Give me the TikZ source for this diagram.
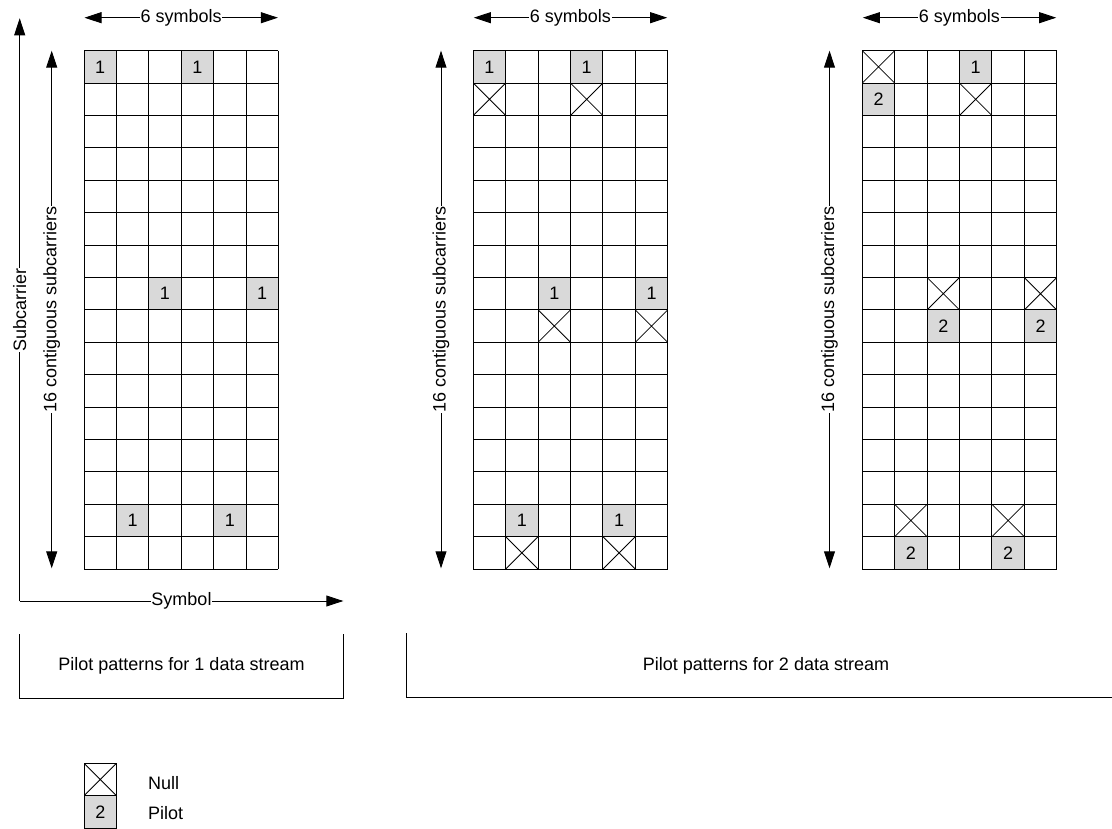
\documentclass[tikz,border=0pt]{standalone}
\usepackage{fontspec}
\setmainfont{Liberation Sans}
\usetikzlibrary{arrows.meta}
\begin{document}
\begin{tikzpicture}[x=1pt,y=-1pt,
  gridline/.style={line width=1pt,black},
  cellbox/.style={draw,line width=1pt,minimum width=32.4pt,minimum height=32.4pt,inner sep=0pt,outer sep=0pt,font=\fontsize{18}{20}\selectfont},
  pilotcell/.style={cellbox,fill=black!15},
  nullcell/.style={cellbox,fill=white,path picture={
      \draw[line width=0.8pt] (path picture bounding box.north west) -- (path picture bounding box.south east)
            (path picture bounding box.north east) -- (path picture bounding box.south west);}},
  arr/.style={line width=0.9pt,{Triangle[length=17pt,width=11pt]}-{Triangle[length=17pt,width=11pt]}},
  onearr/.style={line width=0.9pt,-{Triangle[length=17pt,width=11pt]}},
  lbl/.style={fill=white,inner sep=0.5pt,font=\fontsize{18}{20}\selectfont},
  boxline/.style={line width=0.9pt},
  plain/.style={inner sep=0pt,font=\fontsize{18}{20}\selectfont}
]
\useasboundingbox (0,0) rectangle (1112,829);
\def\cs{32.4}
\def\gy{50.7}
% grids
\foreach \gx in {84,473.3,862.3}{
  \foreach \i in {0,...,6}{
    \draw[gridline] (\gx+\i*\cs,\gy) -- (\gx+\i*\cs,\gy+16*\cs);
  }
  \foreach \j in {0,...,16}{
    \draw[gridline] (\gx,\gy+\j*\cs) -- (\gx+6*\cs,\gy+\j*\cs);
  }
}
% cell helper: column, row -> center
\newcommand{\cellat}[3]{(#1+#2*\cs+\cs/2,\gy+#3*\cs+\cs/2)}
% grid 1 pilots
\node[pilotcell] (g1p1) at \cellat{84}{0}{0} {1};
\node[pilotcell] (g1p2) at \cellat{84}{3}{0} {1};
\node[pilotcell] (g1p3) at \cellat{84}{2}{7} {1};
\node[pilotcell] (g1p4) at \cellat{84}{5}{7} {1};
\node[pilotcell] (g1p5) at \cellat{84}{1}{14} {1};
\node[pilotcell] (g1p6) at \cellat{84}{4}{14} {1};
% grid 2
\node[pilotcell] (g2p1) at \cellat{473.3}{0}{0} {1};
\node[pilotcell] (g2p2) at \cellat{473.3}{3}{0} {1};
\node[nullcell] (g2n1) at \cellat{473.3}{0}{1} {};
\node[nullcell] (g2n2) at \cellat{473.3}{3}{1} {};
\node[pilotcell] (g2p3) at \cellat{473.3}{2}{7} {1};
\node[pilotcell] (g2p4) at \cellat{473.3}{5}{7} {1};
\node[nullcell] (g2n3) at \cellat{473.3}{2}{8} {};
\node[nullcell] (g2n4) at \cellat{473.3}{5}{8} {};
\node[pilotcell] (g2p5) at \cellat{473.3}{1}{14} {1};
\node[pilotcell] (g2p6) at \cellat{473.3}{4}{14} {1};
\node[nullcell] (g2n5) at \cellat{473.3}{1}{15} {};
\node[nullcell] (g2n6) at \cellat{473.3}{4}{15} {};
% grid 3
\node[nullcell] (g3n1) at \cellat{862.3}{0}{0} {};
\node[pilotcell] (g3p1) at \cellat{862.3}{3}{0} {1};
\node[pilotcell] (g3q1) at \cellat{862.3}{0}{1} {2};
\node[nullcell] (g3n2) at \cellat{862.3}{3}{1} {};
\node[nullcell] (g3n3) at \cellat{862.3}{2}{7} {};
\node[nullcell] (g3n4) at \cellat{862.3}{5}{7} {};
\node[pilotcell] (g3q2) at \cellat{862.3}{2}{8} {2};
\node[pilotcell] (g3q3) at \cellat{862.3}{5}{8} {2};
\node[nullcell] (g3n5) at \cellat{862.3}{1}{14} {};
\node[nullcell] (g3n6) at \cellat{862.3}{4}{14} {};
\node[pilotcell] (g3q4) at \cellat{862.3}{1}{15} {2};
\node[pilotcell] (g3q5) at \cellat{862.3}{4}{15} {2};
% top arrows
\foreach \gx/\n in {84/a,473.3/b,862.3/c}{
  \coordinate (top\n l) at (\gx+0.5,17.7);
  \coordinate (top\n r) at (\gx+6*\cs-0.5,17.7);
  \draw[arr] (top\n l) -- node[lbl] (sym\n) {6 symbols} (top\n r);
}
% side arrows
\foreach \ax/\n in {51.7/a,441/b,829.5/c}{
  \coordinate (side\n t) at (\ax,50.7);
  \coordinate (side\n b) at (\ax,568.3);
  \draw[arr] (side\n t) -- node[lbl,rotate=90] (sub\n) {16 contiguous subcarriers} (side\n b);
}
% axes
\coordinate (axtop) at (19.7,18.3);
\coordinate (axcorner) at (19.7,601);
\coordinate (axright) at (343.3,601);
\draw[onearr] (axcorner) -- (axtop);
\draw[onearr] (axcorner) -- (axright);
\node[lbl,rotate=90] (subc) at (19.7,310) {Subcarrier};
\node[lbl] (symb) at (181.5,601) {Symbol};
% label boxes
\draw[boxline] (19.7,634) -- (19.7,698) -- (343.3,698) -- (343.3,634);
\node[plain] (lab1) at (181.5,666) {Pilot patterns for 1 data stream};
\draw[boxline] (406.7,633) -- (406.7,697.7) -- (1112,697.7);
\node[plain] (lab2) at (766,666) {Pilot patterns for 2 data stream};
% legend
\node[nullcell] (legnull) at (100.3,779.5) {};
\node[pilotcell] (legpilot) at (100.3,811.9) {2};
\node[plain,anchor=west] (legnulltxt) at (148,783) {Null};
\node[plain,anchor=west] (legpilottxt) at (148,813) {Pilot};
\end{tikzpicture}
\end{document}
